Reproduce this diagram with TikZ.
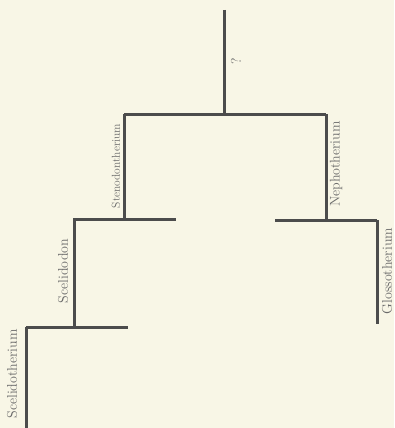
\documentclass[tikz,border=0pt]{standalone}
\usepackage{xcolor}
\definecolor{paper}{HTML}{F8F6E6}
\definecolor{ink}{HTML}{4C4C4C}
\definecolor{txt}{HTML}{6A6A6A}
\begin{document}
\begin{tikzpicture}[x=1pt,y=-1pt,
  branch/.style={draw=ink,line width=3pt,line cap=butt},
  lbl/.style={rotate=90,text=txt,font=\fontsize{14}{16}\selectfont,inner sep=0pt}]
\fill[paper] (0,0) rectangle (394,428);
\useasboundingbox (0,0) rectangle (394,428);
% coordinates
\coordinate (top) at (224,10);
\coordinate (r) at (224,114);
\coordinate (rl) at (124,114);
\coordinate (rr) at (326,114);
\coordinate (a) at (124,219);
\coordinate (al) at (73,219);
\coordinate (ar) at (176,219);
\coordinate (b) at (326,220);
\coordinate (bl) at (275,220);
\coordinate (br) at (377,220);
\coordinate (gl) at (377,324);
\coordinate (atop) at (74,219);
\coordinate (c) at (74,327);
\coordinate (cl) at (26,327);
\coordinate (cr) at (128,327);
\coordinate (sc) at (26,428);
% branches
\draw[branch] (top) -- (r);
\draw[branch] (rl) -- (rr);
\draw[branch] (rl) -- (a);
\draw[branch] (rr) -- (b);
\draw[branch] (al) -- (ar);
\draw[branch] (bl) -- (br);
\draw[branch] (br) -- (gl);
\draw[branch] (atop) -- (c);
\draw[branch] (cl) -- (cr);
\draw[branch] (cl) -- (sc);
% labels
\node[lbl] (q) at (236,61) {?};
\node[lbl,font=\fontsize{11.5}{13}\selectfont] (sten) at (116,166) {Stenodontherium};
\node[lbl] (neph) at (336,164) {Nephotherium};
\node[lbl] (scel) at (63,271) {Scelidodon};
\node[lbl] (glos) at (387,271) {Glossotherium};
\node[lbl] (scth) at (12,374) {Scelidotherium};
\end{tikzpicture}
\end{document}
